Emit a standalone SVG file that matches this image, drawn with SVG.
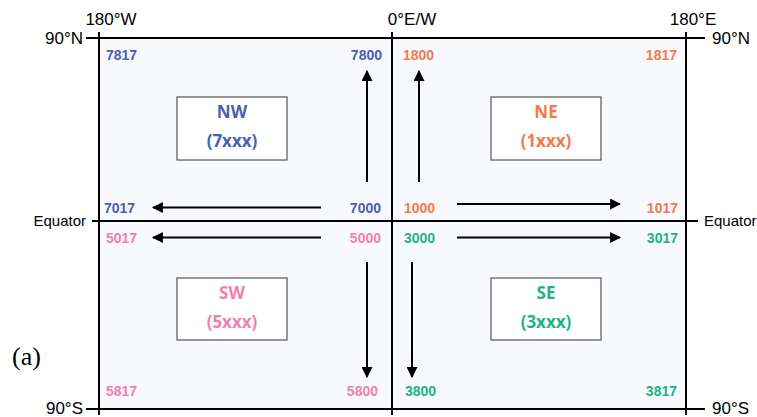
<svg xmlns="http://www.w3.org/2000/svg" width="757" height="417" viewBox="0 0 757 417">
<style>
.ax{stroke:#000;stroke-width:2;fill:none}
.lbl{font-family:"Liberation Sans",Arial,sans-serif;font-size:17px;fill:#000}
.eq{font-family:"Liberation Sans",Arial,sans-serif;font-size:15px;fill:#000}
.num{font-family:"Liberation Sans",Arial,sans-serif;font-size:14px;font-weight:bold}
.box{fill:#fff;stroke:#555;stroke-width:1.2}
.bt{font-family:"Open Sans","Liberation Sans",sans-serif;font-size:17px;font-weight:bold;text-anchor:middle}
.arr{stroke:#000;stroke-width:2;fill:none;marker-end:url(#ah)}
.b{fill:#4a5fb0}.o{fill:#f47a4e}.p{fill:#f47fae}.g{fill:#1cb386}
</style>
<defs>
<marker id="ah" viewBox="0 0 10 10" refX="9" refY="5" markerWidth="5.5" markerHeight="5.5" orient="auto" markerUnits="strokeWidth">
<path d="M0,0 L10,5 L0,10 z" fill="#000"/>
</marker>
</defs>
<rect x="99" y="38" width="587" height="371" fill="#f8f9fd"/>
<g id="frame">
<line class="ax" x1="86" y1="38" x2="705" y2="38"/>
<line class="ax" x1="86" y1="409" x2="705" y2="409"/>
<line class="ax" x1="92" y1="221" x2="698" y2="221"/>
<line class="ax" x1="99" y1="32" x2="99" y2="415"/>
<line class="ax" x1="392" y1="32" x2="392" y2="415"/>
<line class="ax" x1="686" y1="32" x2="686" y2="415"/>
</g>
<g id="axis-labels">
<text class="lbl" x="111" y="25" text-anchor="middle">180°W</text>
<text class="lbl" x="412" y="25" text-anchor="middle">0°E/W</text>
<text class="lbl" x="693" y="25" text-anchor="middle">180°E</text>
<text class="lbl" x="83" y="44" text-anchor="end">90°N</text>
<text class="lbl" x="712" y="44">90°N</text>
<text class="lbl" x="83" y="414" text-anchor="end">90°S</text>
<text class="lbl" x="712" y="414">90°S</text>
<text class="eq" x="86" y="226" text-anchor="end">Equator</text>
<text class="eq" x="704" y="226">Equator</text>
<text x="12" y="365" font-family="Liberation Serif,serif" font-size="26">(a)</text>
</g>
<g id="NW">
<rect class="box" x="177" y="97" width="110" height="63"/>
<text class="bt b" x="232" y="118">NW</text>
<text class="bt b" x="232" y="147">(7xxx)</text>
</g>
<g id="NE">
<rect class="box" x="491" y="97" width="110" height="63"/>
<text class="bt o" x="546" y="118">NE</text>
<text class="bt o" x="546" y="147">(1xxx)</text>
</g>
<g id="SW">
<rect class="box" x="177" y="278" width="110" height="62"/>
<text class="bt p" x="232" y="299">SW</text>
<text class="bt p" x="232" y="328">(5xxx)</text>
</g>
<g id="SE">
<rect class="box" x="491" y="278" width="110" height="62"/>
<text class="bt g" x="546" y="299">SE</text>
<text class="bt g" x="546" y="328">(3xxx)</text>
</g>
<g id="codes">
<text class="num b" x="106" y="60">7817</text>
<text class="num b" x="382" y="60" text-anchor="end">7800</text>
<text class="num o" x="403" y="60">1800</text>
<text class="num o" x="677" y="60" text-anchor="end">1817</text>
<text class="num b" x="104" y="213">7017</text>
<text class="num b" x="381" y="213" text-anchor="end">7000</text>
<text class="num o" x="404" y="213">1000</text>
<text class="num o" x="678" y="213" text-anchor="end">1017</text>
<text class="num p" x="106" y="243">5017</text>
<text class="num p" x="381" y="243" text-anchor="end">5000</text>
<text class="num g" x="404" y="243">3000</text>
<text class="num g" x="678" y="243" text-anchor="end">3017</text>
<text class="num p" x="106" y="396">5817</text>
<text class="num p" x="378" y="396" text-anchor="end">5800</text>
<text class="num g" x="405" y="396">3800</text>
<text class="num g" x="677" y="396" text-anchor="end">3817</text>
</g>
<g id="connectors">
<line class="arr" x1="321" y1="207.5" x2="153" y2="207.5"/>
<line class="arr" x1="321" y1="237.5" x2="153" y2="237.5"/>
<line class="arr" x1="457" y1="204" x2="620" y2="204"/>
<line class="arr" x1="457" y1="237.5" x2="620" y2="237.5"/>
<line class="arr" x1="367" y1="182" x2="367" y2="71"/>
<line class="arr" x1="419" y1="182" x2="419" y2="71"/>
<line class="arr" x1="367" y1="262" x2="367" y2="377"/>
<line class="arr" x1="412" y1="262" x2="412" y2="377"/>
</g>
</svg>
